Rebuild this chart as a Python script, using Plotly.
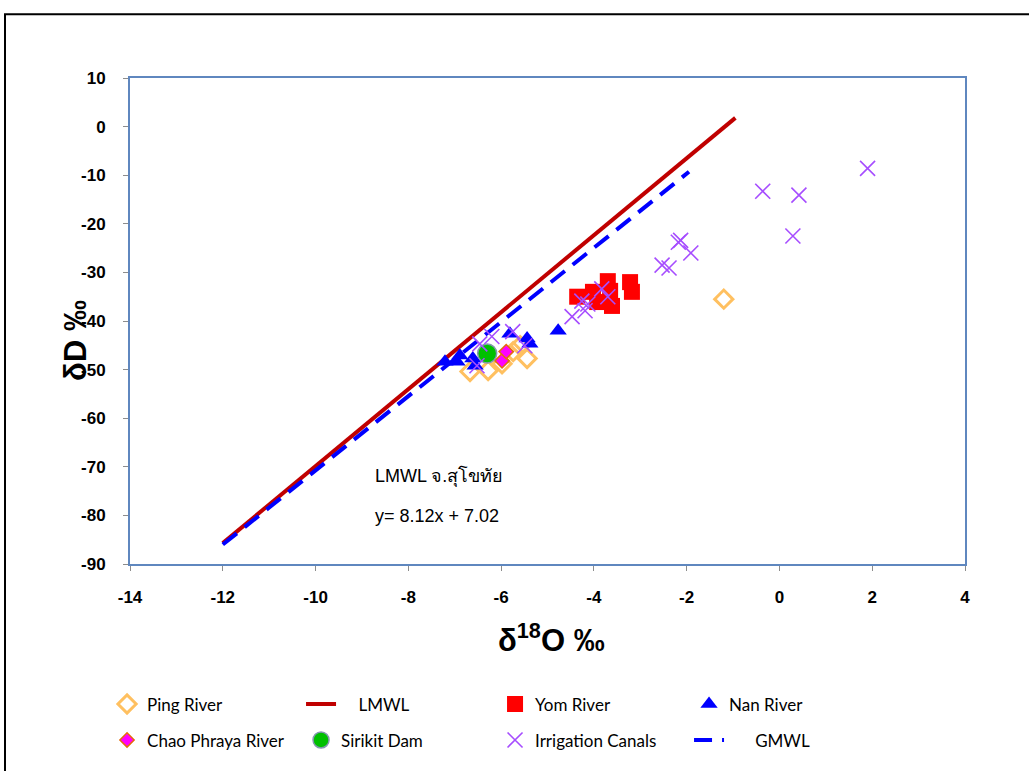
import plotly.graph_objects as go

# ---- data ----
ping_x = [-6.67, -6.28, -5.98, -5.74, -5.44, -5.59, -1.20]
ping_y = [-50.4, -50.2, -48.8, -46.3, -47.7, -45.1, -35.5]

chao_x = [-5.98, -5.89]
chao_y = [-48.2, -46.3]

sirikit_x = [-6.30]
sirikit_y = [-46.7]

yom_x = [-4.36, -4.02, -3.93, -3.70, -3.65, -3.61, -3.22, -3.18]
yom_y = [-35.0, -34.0, -36.1, -31.8, -33.8, -36.9, -32.0, -34.0]

nan_x = [-7.21, -6.95, -6.89, -6.56, -6.61, -5.81, -5.44, -5.38, -4.77]
nan_y = [-48.4, -48.4, -47.1, -49.2, -47.7, -42.6, -43.6, -44.7, -42.0]

irr_x = [1.90, -0.36, 0.42, 0.29, -2.13, -2.18, -1.91, -2.53, -2.38,
         -3.83, -3.70, -4.26, -4.13, -4.19, -4.47,
         -6.46, -6.20, -5.75, -5.49, -6.52]
irr_y = [-8.6, -13.3, -14.1, -22.5, -23.4, -23.8, -26.0, -28.5, -29.1,
         -33.4, -35.0, -35.9, -36.5, -37.9, -39.1,
         -44.7, -43.2, -42.2, -45.1, -49.2]

lmwl_x = [-12.0, -0.95]
lmwl_y = [-85.7, 1.8]

gmwl_x = [-12.0, -1.95]
gmwl_y = [-86.0, -9.3]

x_ticks = [-14, -12, -10, -8, -6, -4, -2, 0, 2, 4]
y_ticks = [10, 0, -10, -20, -30, -40, -50, -60, -70, -80, -90]

legend_font = dict(family="Lato, Open Sans, sans-serif", size=17, color="black")
NB = "\u00a0"

fig = go.Figure()

# lines
fig.add_trace(go.Scatter(x=lmwl_x, y=lmwl_y, mode="lines", name=NB * 4 + "LMWL",
                         line=dict(color="#C00000", width=4), legend="legend",
                         legendrank=2))
fig.add_trace(go.Scatter(x=gmwl_x, y=gmwl_y, mode="lines", name=NB * 6 + "GMWL",
                         line=dict(color="#0000FF", width=4, dash="18px,10px"),
                         legend="legend2", legendrank=4))

# markers
fig.add_trace(go.Scatter(x=ping_x, y=ping_y, mode="markers", name="Ping River",
                         marker=dict(symbol="diamond-open", size=14, color="#FFC060",
                                     line=dict(width=3, color="#FFC060")),
                         legend="legend", legendrank=1))
fig.add_trace(go.Scatter(x=yom_x, y=yom_y, mode="markers", name="Yom River",
                         marker=dict(symbol="square", size=16, color="#FF0000",
                                     line=dict(width=0)),
                         legend="legend", legendrank=3))
fig.add_trace(go.Scatter(x=nan_x, y=nan_y, mode="markers", name="Nan River",
                         marker=dict(symbol="triangle-up", size=15, color="#0000FF",
                                     line=dict(width=0)),
                         legend="legend", legendrank=4))
fig.add_trace(go.Scatter(x=chao_x, y=chao_y, mode="markers", name="Chao Phraya River",
                         marker=dict(symbol="diamond", size=11, color="#FF00FF",
                                     line=dict(width=1.5, color="#E46C0A")),
                         legend="legend2", legendrank=1))
fig.add_trace(go.Scatter(x=sirikit_x, y=sirikit_y, mode="markers", name="Sirikit Dam",
                         marker=dict(symbol="circle", size=19, color="#00C000",
                                     line=dict(width=1.5, color="#8497B0")),
                         legend="legend2", legendrank=2))
fig.add_trace(go.Scatter(x=irr_x, y=irr_y, mode="markers", name="Irrigation Canals",
                         marker=dict(symbol="x-thin", size=15, color="#A64DFF",
                                     line=dict(width=1.6, color="#A64DFF")),
                         legend="legend2", legendrank=3))

fig.update_layout(
    width=1029, height=771,
    margin=dict(l=130, r=64, t=78, b=205),
    paper_bgcolor="white", plot_bgcolor="white",
    font=dict(family="Liberation Sans, Arial, sans-serif", color="black"),
    showlegend=True,
    legend=dict(orientation="h", x=-0.0275, xanchor="left", y=-0.289, yanchor="middle",
                entrywidth=149, entrywidthmode="pixels", font=legend_font,
                bgcolor="rgba(0,0,0,0)"),
    legend2=dict(orientation="h", x=-0.0275, xanchor="left", y=-0.363, yanchor="middle",
                 entrywidth=149, entrywidthmode="pixels", font=legend_font,
                 bgcolor="rgba(0,0,0,0)"),
)

fig.update_xaxes(range=[-14, 4], tickvals=x_ticks, ticktext=[str(v) for v in x_ticks],
                 showgrid=False, zeroline=False, showline=True, mirror=True,
                 linecolor="#5F87BF", linewidth=2, ticks="outside", ticklen=5,
                 tickcolor="#8C8C8C", tickwidth=1,
                 tickfont=dict(family="Liberation Sans, Arial", size=17, color="black",
                               weight="bold"),
                 ticklabelstandoff=12)
fig.update_yaxes(range=[-90, 10], tickvals=y_ticks, ticktext=[str(v) for v in y_ticks],
                 showgrid=False, zeroline=False, showline=True, mirror=True,
                 linecolor="#5F87BF", linewidth=2, ticks="outside", ticklen=5,
                 tickcolor="#8C8C8C", tickwidth=1,
                 tickfont=dict(family="Liberation Sans, Arial", size=17, color="black",
                               weight="bold"),
                 ticklabelstandoff=14)

# axis titles as annotations
fig.add_annotation(text="δD ‰", x=(76 - 130) / 835, y=(566 - 342) / 488,
                   xref="paper", yref="paper", showarrow=False, textangle=-90,
                   xanchor="center", yanchor="middle",
                   font=dict(family="Liberation Sans, Arial", size=31, color="black",
                             weight="bold"))
fig.add_annotation(text="δ<sup>18</sup>O ‰", x=(551 - 130) / 835, y=(566 - 640) / 488,
                   xref="paper", yref="paper", showarrow=False,
                   xanchor="center", yanchor="middle",
                   font=dict(family="Liberation Sans, Arial", size=31, color="black",
                             weight="bold"))

# equation text
fig.add_annotation(text="LMWL จ.สุโขทัย", x=-8.76, y=-71.9, xref="x", yref="y",
                   xanchor="left", yanchor="middle", showarrow=False,
                   font=dict(family="Liberation Sans, Arial", size=18, color="black"))
fig.add_annotation(text="y= 8.12x + 7.02", x=-8.76, y=-80.1, xref="x", yref="y",
                   xanchor="left", yanchor="middle", showarrow=False,
                   font=dict(family="Liberation Sans, Arial", size=18, color="black"))

# outer frame
fig.add_shape(type="rect", xref="paper", yref="paper",
              x0=(5 - 130) / 835, x1=(1040 - 130) / 835,
              y0=(566 - 790) / 488, y1=(566 - 14) / 488,
              line=dict(color="black", width=2), fillcolor="rgba(0,0,0,0)", layer="below")

fig.write_html("out.html", config={"displayModeBar": False},
               post_script="document.body.style.margin='0';")
